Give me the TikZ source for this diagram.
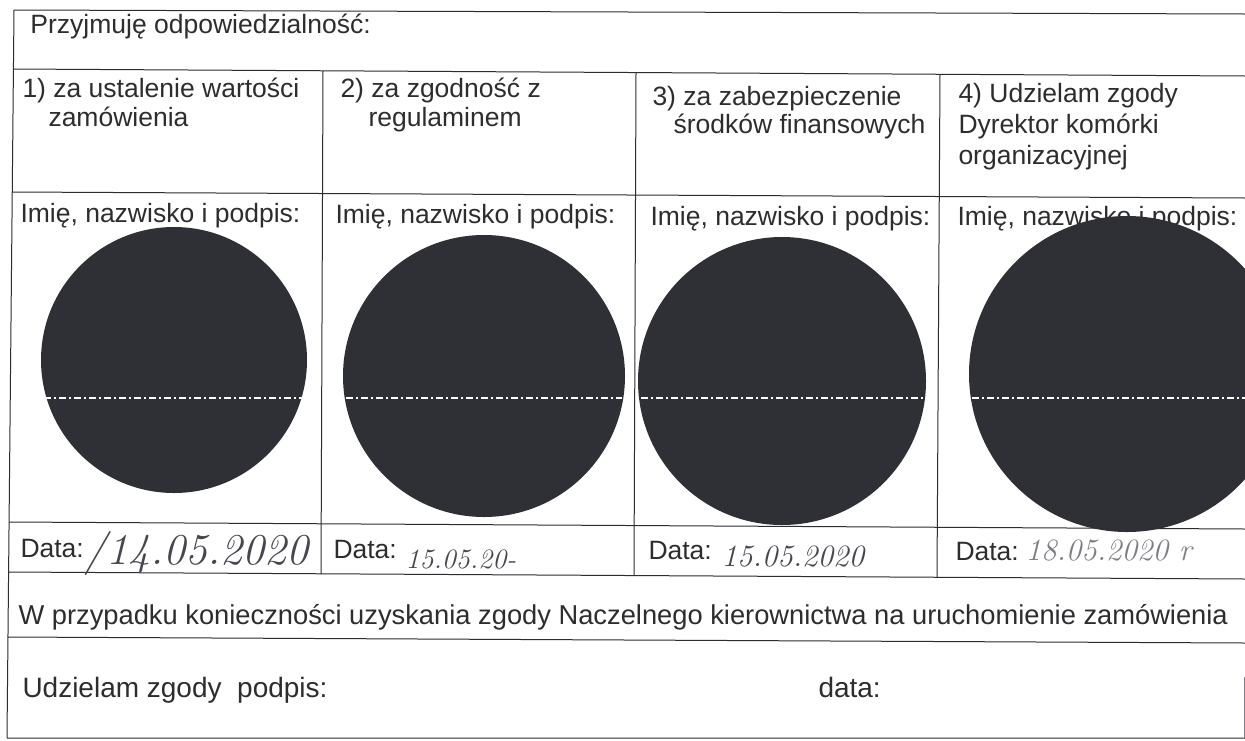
\documentclass[tikz,border=0pt]{standalone}
\usepackage{fontspec}
\newfontfamily\formfont{Liberation Sans}
\definecolor{ink}{RGB}{45,45,48}
\definecolor{blot}{RGB}{46,48,53}
\definecolor{pen}{RGB}{70,70,78}
\definecolor{faded}{RGB}{125,125,132}

\begin{document}
\begin{tikzpicture}[x=1pt,y=-1pt,line width=1pt,
  txt/.style={anchor=base west,inner sep=0pt,text=ink,font=\formfont\fontsize{26.5}{30}\selectfont},
  hand/.style={anchor=base west,inner sep=0pt,text=pen,font=\itshape\fontsize{30}{34}\selectfont}]
\useasboundingbox (0,0) rectangle (1245,740);
\fill[white] (0,0) rectangle (1245,740);
\path (14,10) coordinate(L0) (1245,14) coordinate(R0)
      (13,69) coordinate(L1) (1245,76) coordinate(R1)
      (12,192) coordinate(L2) (1245,198) coordinate(R2)
      (10,522) coordinate(L3) (1245,529) coordinate(R3)
      (9,572) coordinate(L4) (1245,579) coordinate(R4)
      (8,637) coordinate(L5) (1245,643) coordinate(R5)
      (7,738) coordinate(L6) (1245,738) coordinate(R6);
\draw[ink] (L0)--(R0) (L1)--(R1) (L2)--(R2) (L3)--(R3) (L4)--(R4) (L5)--(R5) (L6)--(R6) (L0)--(L6);
\draw[ink] (323,71) coordinate(C1)--(321,574) coordinate(D1);
\draw[ink] (636,73) coordinate(C2)--(634,575) coordinate(D2);
\draw[ink] (940,74) coordinate(C3)--(937,577) coordinate(D3);
\draw[faded,line width=0.8pt] (1244,677) coordinate(E)--(1244,738);

\node[txt] (head) at (30,33) {Przyjmuję odpowiedzialność:};
\node[txt] (h1a) at (22,97) {1) za ustalenie wartości};
\node[txt] (h1b) at (48,126) {zamówienia};
\node[txt] (h2a) at (340,97) {2) za zgodność z};
\node[txt] (h2b) at (368,126) {regulaminem};
\node[txt] (h3a) at (652,105) {3) za zabezpieczenie};
\node[txt] (h3b) at (673,133) {środków finansowych};
\node[txt] (h4a) at (958,102) {4) Udzielam zgody};
\node[txt] (h4b) at (958,133) {Dyrektor komórki};
\node[txt] (h4c) at (958,164) {organizacyjnej};
\node[txt] (n1) at (20,222) {Imię, nazwisko i podpis:};
\node[txt] (n2) at (335,223) {Imię, nazwisko i podpis:};
\node[txt] (n3) at (650,225) {Imię, nazwisko i podpis:};
\node[txt] (n4) at (957,225) {Imię, nazwisko i podpis:};

\foreach \cx/\cy/\r/\n in {174/360/133/1,484/376/141/2,782/381/144/3,1127/374/158/4}{
  \fill[blot] (\cx,\cy) coordinate(S\n) circle (\r);
  \draw[white,line width=1.2pt,dash pattern=on 7pt off 3pt on 2pt off 3pt] (\cx-\r+3,398)--(\cx+\r-3,398);
}

\node[txt] (d1) at (20,557) {Data:};
\node[txt] (d2) at (333,558) {Data:};
\node[txt] (d3) at (648,559) {Data:};
\node[txt] (d4) at (955,560) {Data:};
\node[hand,font=\itshape\fontsize{44}{48}\selectfont] (v1) at (84,564) {/14.05.2020};
\node[hand,font=\itshape\fontsize{28}{30}\selectfont] (v2) at (405,568) {15.05.20-};
\node[hand,font=\itshape\fontsize{31}{34}\selectfont] (v3) at (721,566) {15.05.2020};
\node[hand,text=faded,font=\itshape\fontsize{31}{34}\selectfont] (v4) at (1025,560) {18.05.2020 r};

\node[txt,font=\formfont\fontsize{27.3}{30}\selectfont] (cond) at (18,624) {W przypadku konieczności uzyskania zgody Naczelnego kierownictwa na uruchomienie zamówienia};
\node[txt,font=\formfont\fontsize{28}{30}\selectfont] (sign) at (22,697) {Udzielam zgody\ \ podpis:};
\node[txt,font=\formfont\fontsize{28}{30}\selectfont] (date) at (818,697) {data:};
\end{tikzpicture}
\end{document}
